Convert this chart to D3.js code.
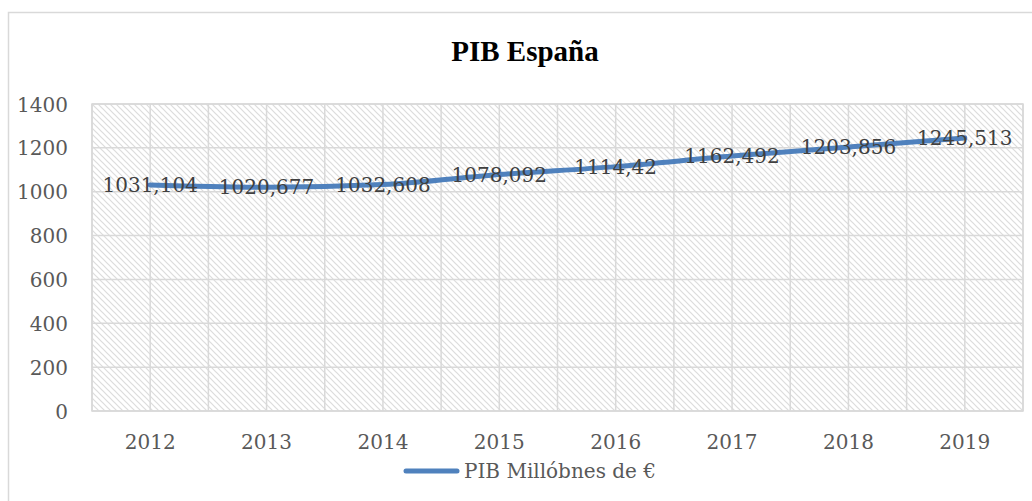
<!DOCTYPE html>
<html><head><meta charset="utf-8">
<script src="https://cdn.jsdelivr.net/npm/d3@7"></script>
<style>body{margin:0;background:#fff}svg{display:block}</style>
</head><body>
<svg id="c" width="1032" height="501"></svg>
<script>
const categories = ["2012","2013","2014","2015","2016","2017","2018","2019"];
const values = [1031.104, 1020.677, 1032.608, 1078.092, 1114.42, 1162.492, 1203.856, 1245.513];
const yTicks = [0,200,400,600,800,1000,1200,1400];
const title = "PIB España";
const seriesName = "PIB Millóbnes de €";

const svg = d3.select("#c");
const m = {l:92, r:1023, t:104, b:411};
const serif = "'DejaVu Serif', serif";

svg.append("rect").attr("x",8.5).attr("y",12.5).attr("width",1040).attr("height",500)
  .attr("fill","#fff").attr("stroke","#d9d9d9").attr("stroke-width",1.5);

const defs = svg.append("defs");
const pat = defs.append("pattern").attr("id","hatch").attr("patternUnits","userSpaceOnUse")
  .attr("width",6).attr("height",6);
pat.append("rect").attr("width",6).attr("height",6).attr("fill","#fff");
pat.append("path").attr("d","M-1,-1 L7,7 M-1,5 L1,7 M5,-1 L7,1").attr("stroke","#dcdcdc").attr("stroke-width",1.2);

const x = d3.scaleBand().domain(categories).range([m.l, m.r]).padding(0);
const y = d3.scaleLinear().domain([0,1400]).range([m.b, m.t]);

svg.append("rect").attr("x",m.l).attr("y",m.t).attr("width",m.r-m.l).attr("height",m.b-m.t)
  .attr("fill","url(#hatch)");

svg.append("g").selectAll("line").data(yTicks).join("line")
  .attr("x1",m.l).attr("x2",m.r).attr("y1",d=>y(d)).attr("y2",d=>y(d))
  .attr("stroke","#d9d9d9").attr("stroke-width",1.5);
const vlines = [];
categories.forEach(c=>{ vlines.push(x(c)); vlines.push(x(c)+x.bandwidth()/2); });
vlines.push(m.r);
svg.append("g").selectAll("line").data(vlines).join("line")
  .attr("x1",d=>d).attr("x2",d=>d).attr("y1",m.t).attr("y2",m.b)
  .attr("stroke","#d9d9d9").attr("stroke-width",1.5);
svg.append("rect").attr("x",m.l).attr("y",m.t).attr("width",m.r-m.l).attr("height",m.b-m.t)
  .attr("fill","none").attr("stroke","#d9d9d9").attr("stroke-width",1.5);

const yAxis = d3.axisLeft(y).tickValues(yTicks).tickFormat(d3.format("d")).tickSize(0).tickPadding(0);
const ya = svg.append("g").attr("transform",`translate(68,0)`).call(yAxis);
ya.select(".domain").remove();
ya.selectAll("text").attr("font-family",serif).attr("font-size",20).attr("fill","#595959").attr("dy","0.35em");

const xAxis = d3.axisBottom(x).tickSize(0).tickPadding(0);
const xa = svg.append("g").attr("transform",`translate(0,442)`).call(xAxis);
xa.select(".domain").remove();
xa.selectAll("text").attr("font-family",serif).attr("font-size",20).attr("fill","#595959").attr("dy","0.35em");

const cx = c => x(c)+x.bandwidth()/2;
const line = d3.line().x((d,i)=>cx(categories[i])).y(d=>y(d)).curve(d3.curveMonotoneX);
svg.append("path").datum(values).attr("d",line).attr("fill","none")
  .attr("stroke","#4f81bd").attr("stroke-width",5).attr("stroke-linecap","round");

svg.append("g").selectAll("text").data(values).join("text")
  .attr("x",(d,i)=>cx(categories[i])).attr("y",d=>y(d)).attr("dy","0.35em")
  .attr("text-anchor","middle").attr("font-family",serif).attr("font-size",20).attr("fill","#404040")
  .text(d=>String(d).replace(".",","));

svg.append("text").attr("x",525).attr("y",61).attr("text-anchor","middle")
  .attr("font-family","'Liberation Serif', serif").attr("font-weight","bold").attr("font-size",29)
  .attr("fill","#000").text(title);

svg.append("line").attr("x1",406).attr("x2",457).attr("y1",471).attr("y2",471)
  .attr("stroke","#4f81bd").attr("stroke-width",5).attr("stroke-linecap","round");
svg.append("text").attr("x",464).attr("y",471).attr("dy","0.35em")
  .attr("font-family",serif).attr("font-size",20).attr("fill","#595959").text(seriesName);
</script>
</body></html>
